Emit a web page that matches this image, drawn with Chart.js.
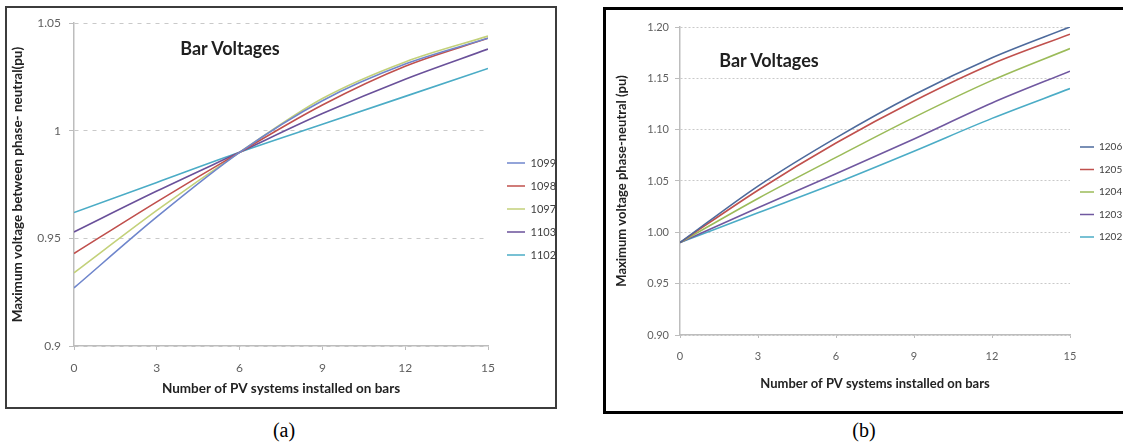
<!DOCTYPE html>
<html>
<head>
<meta charset="utf-8">
<script src="https://cdn.jsdelivr.net/npm/chart.js@4.4.1/dist/chart.umd.min.js"></script>
<style>
  body { margin: 0; width: 1123px; height: 443px; background: #fff; position: relative; overflow: hidden; font-family: Lato, sans-serif; }
  .frame { position: absolute; box-sizing: border-box; }
  #frameA { left: 5px; top: 6px; width: 552px; height: 403px; border: 2px solid #3c3c3c; }
  #frameB { left: 603px; top: 7px; width: 540px; height: 407px; border: 3px solid #000; }
  canvas { position: absolute; }
  #chartA { left: 7px; top: 8px; }
  #chartB { left: 606px; top: 10px; }
  .title { position: absolute; font-weight: bold; color: #1f1f1f; white-space: nowrap; transform: translate(-50%, -50%); font-size: 18px; }
  .cap { position: absolute; font-family: "Liberation Serif", serif; font-size: 20px; transform: translate(-50%, -50%); color: #000; }
</style>
</head>
<body>
<div class="frame" id="frameA"></div>
<div class="frame" id="frameB"></div>
<canvas id="chartA" width="560" height="399"></canvas>
<canvas id="chartB" width="517" height="400"></canvas>
<div class="title" style="left:230px; top:48px;">Bar Voltages</div>
<div class="title" style="left:769px; top:60px;">Bar Voltages</div>
<div class="cap" style="left:284px; top:430px;">(a)</div>
<div class="cap" style="left:864px; top:430px;">(b)</div>
<script>
// number of PV systems (x positions)
var pvCount = [0, 3, 6, 9, 12, 15];

// (a) buses 1099..1102
var busesA = ["1099", "1098", "1097", "1103", "1102"];
var v1099 = [0.927, 0.960, 0.990, 1.014, 1.031, 1.043];
var v1098 = [0.943, 0.967, 0.990, 1.012, 1.030, 1.043];
var v1097 = [0.934, 0.963, 0.990, 1.015, 1.032, 1.044];
var v1103 = [0.953, 0.972, 0.990, 1.008, 1.024, 1.038];
var v1102 = [0.962, 0.976, 0.990, 1.003, 1.016, 1.029];
var yTicksA = [0.9, 0.95, 1, 1.05];
var yLabelsA = ["0.9", "0.95", "1", "1.05"];

// (b) buses 1206..1202
var busesB = ["1206", "1205", "1204", "1203", "1202"];
var v1206 = [0.990, 1.045, 1.092, 1.134, 1.170, 1.200];
var v1205 = [0.990, 1.041, 1.087, 1.128, 1.164, 1.193];
var v1204 = [0.990, 1.033, 1.073, 1.112, 1.148, 1.179];
var v1203 = [0.990, 1.024, 1.057, 1.091, 1.126, 1.157];
var v1202 = [0.990, 1.019, 1.048, 1.079, 1.111, 1.140];
var yTicksB = [0.90, 0.95, 1.00, 1.05, 1.10, 1.15, 1.20];
var yLabelsB = ["0.90", "0.95", "1.00", "1.05", "1.10", "1.15", "1.20"];

var xTicks = [0, 3, 6, 9, 12, 15];

Chart.defaults.font.family = "Lato";
Chart.defaults.animation = false;

// puts the legend where the original one sits
var legendPlace = {
    id: "legendPlace",
    beforeDraw: function (chart, args, o) {
        var lg = chart.legend;
        var w = lg.right - lg.left, h = lg.bottom - lg.top;
        lg.left = o.left; lg.right = o.left + w;
        lg.top = o.top; lg.bottom = o.top + h;
    }
};

function points(values) {
    return pvCount.map(function (x, i) { return {x: x, y: values[i]}; });
}

function makeChart(id, s) {
    var datasets = s.names.map(function (name, i) {
        return {
            label: name,
            data: points(s.series[i]),
            borderColor: s.colors[i],
            backgroundColor: s.colors[i],
            borderWidth: 1.6,
            pointRadius: 0,
            cubicInterpolationMode: "monotone",
            fill: false
        };
    });
    return new Chart(document.getElementById(id), {
        type: "line",
        data: {datasets: datasets},
        plugins: [legendPlace],
        options: {
            responsive: false,
            layout: {padding: {top: s.padTop, right: s.padRight, bottom: 0, left: 0}},
            plugins: {
                legend: {
                    position: "chartArea",
                    align: "start",
                    labels: {
                        usePointStyle: true,
                        pointStyle: "line",
                        pointStyleWidth: s.legendLine,
                        padding: s.legendPad,
                        color: "#404040",
                        font: {size: s.legendFont}
                    }
                },
                legendPlace: {left: s.legendLeft, top: s.legendTop},
                tooltip: {enabled: false}
            },
            scales: {
                x: {
                    type: "linear",
                    min: 0,
                    max: 15,
                    afterBuildTicks: function (scale) {
                        scale.ticks = xTicks.map(function (v) { return {value: v}; });
                    },
                    afterFit: function (scale) { scale.height = s.xHeight; },
                    grid: {drawOnChartArea: false, tickLength: s.xTickLen, tickColor: "#bdbdbd"},
                    border: {color: "#bdbdbd", width: 1.5},
                    ticks: {color: "#606060", padding: s.xTickPad, maxRotation: 0, font: {size: s.tickFont}},
                    title: {
                        display: true,
                        text: "Number of PV systems installed on bars",
                        color: "#222",
                        font: {size: s.titleFont, weight: "bold"},
                        padding: {top: 0, bottom: s.xTitlePad}
                    }
                },
                y: {
                    min: s.yTicks[0],
                    max: s.yTicks[s.yTicks.length - 1],
                    afterBuildTicks: function (scale) {
                        scale.ticks = s.yTicks.map(function (v) { return {value: v}; });
                    },
                    afterFit: function (scale) { scale.width = s.yWidth; },
                    grid: {color: "#c9c9c9", tickLength: 5, tickColor: "#bdbdbd"},
                    border: {color: "#bdbdbd", width: 1.5, dash: s.gridDash},
                    ticks: {
                        color: "#606060",
                        padding: s.yTickPad,
                        font: {size: s.tickFont},
                        callback: function (v, i) { return s.yLabels[i]; }
                    },
                    title: {
                        display: true,
                        text: s.yTitle,
                        color: "#222",
                        font: {size: s.titleFont, weight: "bold"},
                        padding: {top: s.yTitlePad, bottom: 0}
                    }
                }
            }
        }
    });
}

makeChart("chartA", {
    names: busesA,
    series: [v1099, v1098, v1097, v1103, v1102],
    colors: ["#6f86cc", "#c0504d", "#c3d17a", "#6a519a", "#4bacc6"],
    yTicks: yTicksA,
    yLabels: yLabelsA,
    yTitle: "Maximum voltage between phase- neutral(pu)",
    gridDash: [4, 5],
    padTop: 9, padRight: 79,
    xHeight: 61, yWidth: 67,
    xTickLen: 4, xTickPad: 11, yTickPad: 8,
    xTitlePad: 10, yTitlePad: 3,
    tickFont: 12, titleFont: 13.5,
    legendFont: 11, legendPad: 12, legendLine: 18, legendLeft: 488, legendTop: 137.5
});

makeChart("chartB", {
    names: busesB,
    series: [v1206, v1205, v1204, v1203, v1202],
    colors: ["#4d6a9c", "#c0504d", "#9bbb59", "#7058a0", "#4bacc6"],
    yTicks: yTicksB,
    yLabels: yLabelsB,
    yTitle: "Maximum voltage phase-neutral (pu)",
    gridDash: [2, 2],
    padTop: 17, padRight: 53,
    xHeight: 75, yWidth: 74,
    xTickLen: 3, xTickPad: 12, yTickPad: 6,
    xTitlePad: 18, yTitlePad: 8,
    tickFont: 11, titleFont: 13,
    legendFont: 10, legendPad: 12.5, legendLine: 14, legendLeft: 461.5, legendTop: 119.5
});
</script>
</body>
</html>
